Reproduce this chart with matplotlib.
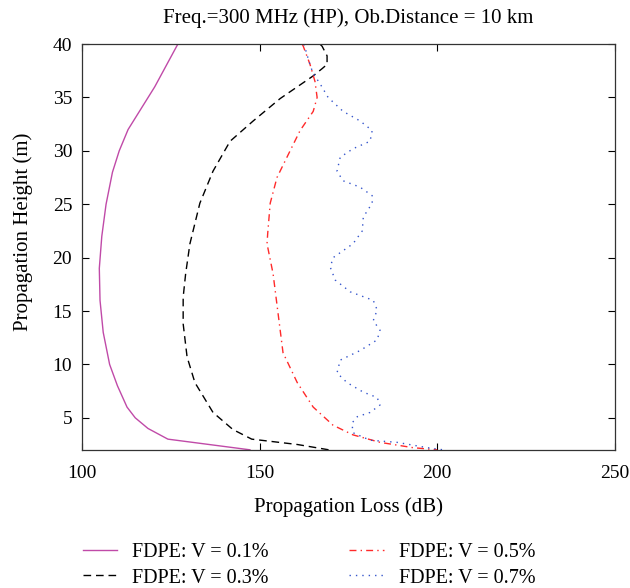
import matplotlib
matplotlib.use("Agg")
import matplotlib.pyplot as plt
import numpy as np

plt.rcParams['font.family'] = ['Liberation Serif', 'DejaVu Serif']

# V = 0.1%
h1 = [40, 36, 32, 30, 28, 25, 22, 19, 16, 13, 10, 8, 6, 5, 4, 3, 2]
l1 = [127.0, 120.5, 113.0, 110.5, 108.6, 106.8, 105.6, 104.9, 105.1, 106.0, 107.8, 110.0, 112.7, 115.0, 118.6, 124.2, 147.3]

# V = 0.3%
h2 = [40, 39.8, 38.9, 38.1, 37.7, 37.0, 34.9, 32.8, 30.9, 28.1, 25.1, 21.3, 18.5, 16.3, 13.8, 10.7, 8.3, 5.5, 3.9, 3.0, 2.5, 2.0]
l2 = [167.0, 167.6, 169.0, 169.0, 167.6, 165.0, 155.8, 148.2, 141.7, 136.9, 133.2, 130.4, 129.2, 128.5, 128.5, 129.6, 131.8, 136.9, 142.5, 147.8, 160.6, 169.5]

# V = 0.5%
h3 = [40, 39.8, 38.1, 36.5, 35.0, 33.7, 31.9, 29.4, 27.5, 25.1, 22.3, 21.3, 18.5, 14.8, 11.1, 8.3, 6.0, 4.3, 3.4, 2.7, 2.2, 2.0]
l3 = [162.0, 162.3, 164.2, 165.6, 166.2, 165.1, 161.4, 157.7, 154.9, 153.0, 152.3, 152.1, 153.8, 155.2, 156.6, 160.6, 165.1, 170.7, 176.3, 183.9, 193.2, 200.0]

# V = 0.7%
h4 = [40, 38.5, 37.3, 36.3, 35.0, 33.7, 32.8, 31.9, 30.9, 30.2, 29.4, 28.1, 27.2, 26.6, 25.8, 25.1, 23.8, 22.5, 21.3,
      20.0, 19.1, 17.9, 16.8, 16.0, 15.1, 14.1, 13.2, 12.3, 11.3, 10.4, 9.2, 8.3, 7.4, 6.9, 6.2, 5.5, 5.1, 4.5, 3.6,
      2.9, 2.7, 2.2, 2.0]
l4 = [162.5, 163.8, 165.0, 167.0, 169.3, 173.5, 178.3, 181.7, 181.1, 176.3, 172.7, 171.8, 173.5, 178.3, 181.7, 181.7, 179.2, 178.9, 176.3,
      170.7, 169.9, 171.3, 175.5, 182.0, 183.1, 182.0, 183.9, 183.1, 178.3, 172.7, 171.8, 174.6, 179.2, 183.1, 183.9, 181.1, 177.5, 176.0, 176.3,
      181.1, 188.7, 197.2, 201.7]

labels = ['FDPE: V = 0.1%', 'FDPE: V = 0.3%', 'FDPE: V = 0.5%', 'FDPE: V = 0.7%']
xticks = [100, 150, 200, 250]
yticks = [5, 10, 15, 20, 25, 30, 35, 40]

fig = plt.figure(figsize=(6.3, 5.88), dpi=100)
ax = fig.add_axes([0.130, 0.235, 0.846, 0.690])

ax.plot(l1, h1, color='#c04aa8', lw=1.0, label=labels[0])
ax.plot(l2, h2, color='black', lw=1.0, ls=(0, (5.5, 3.5)), label=labels[1])
ax.plot(l3, h3, color='#ff2a2a', lw=1.0, ls=(0, (5, 3, 1, 3)), label=labels[2])
ax.plot(l4, h4, color='#3555cc', lw=1.0, ls=(0, (1, 3.6)), label=labels[3])

ax.set_xlim(100, 250)
ax.set_ylim(2, 40)
ax.set_xticks(xticks)
ax.set_yticks(yticks)
ax.tick_params(direction='in', top=True, right=True, labelsize=14, length=5, width=0.8)
ax.tick_params(axis='x', pad=11)
ax.tick_params(axis='y', pad=7)
for s in ax.spines.values():
    s.set_linewidth(0.9)
    s.set_color('#333333')

ax.set_xlabel('Propagation Loss (dB)', fontsize=15, labelpad=11)
ax.set_ylabel('Propagation Height (m)', fontsize=15, labelpad=8)
ax.yaxis.set_label_coords(-0.092, 0.537)
ax.set_title('Freq.=300 MHz (HP), Ob.Distance = 10 km', fontsize=15, pad=15)

fig.legend(loc='upper left', bbox_to_anchor=(0.1317, 0.076), ncol=2, frameon=False,
           fontsize=14.5, handlelength=1.7, columnspacing=4.0, labelspacing=0.3,
           handletextpad=0.75, borderpad=0, borderaxespad=0)

fig.savefig('out.png', dpi=100)
